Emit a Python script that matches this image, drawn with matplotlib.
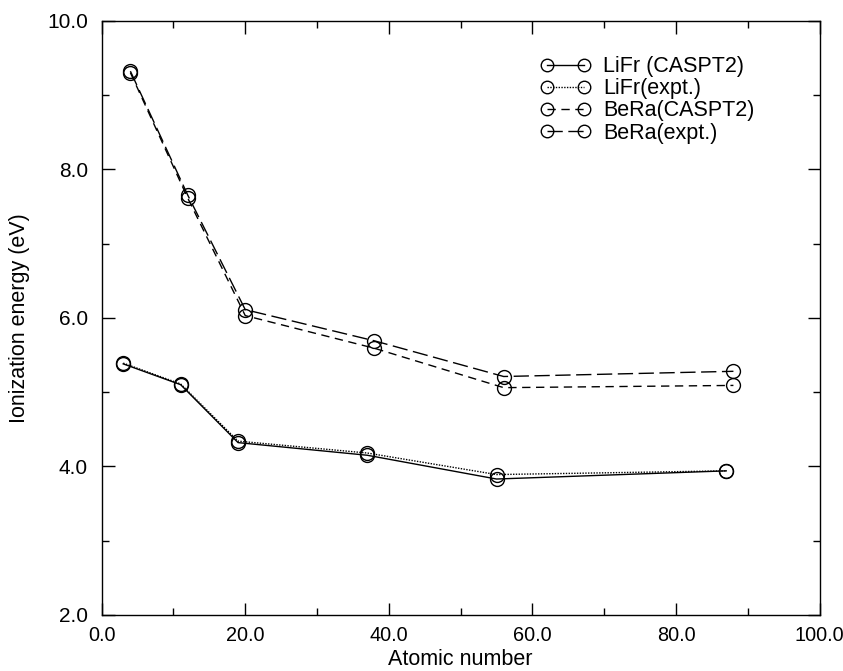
import matplotlib
matplotlib.use('Agg')
import matplotlib.pyplot as plt
from matplotlib.ticker import MultipleLocator, FormatStrFormatter

# atomic numbers
z_lifr = [3, 11, 19, 37, 55, 87]
z_bera = [4, 12, 20, 38, 56, 88]

# ionization energies (eV)
lifr_caspt2 = [5.38, 5.10, 4.32, 4.15, 3.83, 3.94]
lifr_expt = [5.39, 5.11, 4.34, 4.18, 3.89, 3.94]
bera_caspt2 = [9.30, 7.61, 6.03, 5.59, 5.06, 5.09]
bera_expt = [9.32, 7.65, 6.11, 5.69, 5.21, 5.28]

plt.rcParams['font.family'] = ['Liberation Sans', 'DejaVu Sans']

fig = plt.figure(figsize=(8.43, 6.71), dpi=100)
ax = fig.add_axes([0.1206, 0.0835, 0.8516, 0.8857])

mk = dict(marker='o', markersize=10, markerfacecolor='none',
          markeredgecolor='black', markeredgewidth=1.0, color='black', lw=1.0)
ax.plot(z_lifr, lifr_caspt2, linestyle='-', label='LiFr (CASPT2)', **mk)
ax.plot(z_lifr, lifr_expt, linestyle=(0, (1, 1)), label='LiFr(expt.)', **mk)
ax.plot(z_bera, bera_caspt2, linestyle=(0, (6, 4)), label='BeRa(CASPT2)', **mk)
ax.plot(z_bera, bera_expt, linestyle=(0, (11, 4)), label='BeRa(expt.)', **mk)

ax.set_xlim(0, 100)
ax.set_ylim(2, 10)
ax.xaxis.set_major_locator(MultipleLocator(20))
ax.xaxis.set_minor_locator(MultipleLocator(10))
ax.yaxis.set_major_locator(MultipleLocator(2))
ax.yaxis.set_minor_locator(MultipleLocator(1))
ax.xaxis.set_major_formatter(FormatStrFormatter('%.1f'))
ax.yaxis.set_major_formatter(FormatStrFormatter('%.1f'))
ax.tick_params(which='both', direction='in', top=True, right=True)
ax.tick_params(which='major', length=9, width=1, labelsize=15)
ax.tick_params(which='minor', length=5, width=1)
ax.tick_params(axis='x', which='major', pad=8, labelsize=14.3)
ax.tick_params(axis='y', which='major', pad=10)
for s in ax.spines.values():
    s.set_linewidth(1.0)

ax.set_xlabel('Atomic number', fontsize=15.5, labelpad=3)
ax.set_ylabel('Ionization energy (eV)', fontsize=15.5, labelpad=12)

ax.legend(loc='upper left', bbox_to_anchor=(0.612, 0.94), frameon=False, numpoints=2,
          fontsize=15.5, handlelength=2.3, handletextpad=0.6, labelspacing=0.05,
          borderpad=0, borderaxespad=0, markerscale=0.9)

fig.savefig('out.png', dpi=100)
